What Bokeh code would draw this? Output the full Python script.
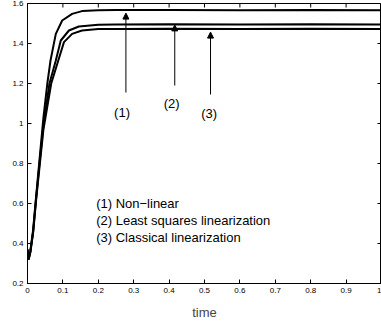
import math
from bokeh.plotting import figure
from bokeh.models import FixedTicker, Arrow, NormalHead
from bokeh.core.properties import value
from bokeh.embed import file_html
from bokeh.resources import INLINE

# ---- data ----
t1 = [0.0, 0.003, 0.008, 0.016, 0.024, 0.035, 0.045, 0.056, 0.065, 0.080, 0.098,
      0.126, 0.154, 0.2, 0.25, 0.4, 0.6, 0.8, 1.0]
y1 = [0.37, 0.32, 0.36, 0.47, 0.63, 0.84, 1.03, 1.20, 1.315, 1.448, 1.515,
      1.548, 1.562, 1.566, 1.567, 1.567, 1.566, 1.567, 1.566]

t2 = [0.0, 0.003, 0.008, 0.016, 0.024, 0.035, 0.045, 0.062, 0.080, 0.094, 0.117,
      0.145, 0.2, 0.25, 0.4, 0.6, 0.8, 1.0]
y2 = [0.37, 0.32, 0.36, 0.46, 0.62, 0.82, 0.99, 1.20, 1.315, 1.415, 1.465,
      1.485, 1.494, 1.495, 1.496, 1.495, 1.496, 1.495]

t3 = [0.0, 0.003, 0.008, 0.016, 0.024, 0.035, 0.045, 0.067, 0.087, 0.103, 0.126,
      0.154, 0.2, 0.25, 0.4, 0.6, 0.8, 1.0]
y3 = [0.37, 0.32, 0.355, 0.455, 0.61, 0.80, 0.97, 1.20, 1.315, 1.407, 1.448,
      1.465, 1.472, 1.473, 1.474, 1.473, 1.474, 1.473]

x_ticks = [0, 0.1, 0.2, 0.3, 0.4, 0.5, 0.6, 0.7, 0.8, 0.9, 1.0]
x_tick_labels = ["0", "0.1", "0.2", "0.3", "0.4", "0.5", "0.6", "0.7", "0.8", "0.9", "1"]
y_ticks = [0.2, 0.4, 0.6, 0.8, 1.0, 1.2, 1.4, 1.6]
y_tick_labels = ["0.2", "0.4", "0.6", "0.8", "1", "1.2", "1.4", "1.6"]

arrow_x = [0.278, 0.416, 0.517]
arrow_y_start = [1.155, 1.19, 1.145]
arrow_y_end = [1.552, 1.493, 1.457]

num_labels = ["(1)", "(2)", "(3)"]
num_label_x = [0.267, 0.407, 0.513]
num_label_y = [1.055, 1.10, 1.05]

legend_lines = ["(1) Non\u2212linear", "(2) Least squares linearization",
                "(3) Classical linearization"]
legend_x = [0.194, 0.194, 0.194]
legend_y = [0.60, 0.515, 0.43]

FONT = "Liberation Sans"
X0, X1 = 0.0, 1.0
Y0, Y1 = 0.2, 1.6

p = figure(width=381, height=325, x_range=(X0, X1), y_range=(Y0, Y1),
           output_backend="svg", toolbar_location=None,
           min_border_left=27, min_border_right=0, min_border_top=3,
           min_border_bottom=42)
p.xgrid.visible = False
p.ygrid.visible = False
p.outline_line_color = "black"
p.outline_line_width = 1
p.background_fill_color = "white"
p.border_fill_color = "white"

for ax, ticks, labels in ((p.xaxis[0], x_ticks, x_tick_labels), (p.yaxis[0], y_ticks, y_tick_labels)):
    ax.ticker = FixedTicker(ticks=ticks)
    ax.major_label_overrides = {t: l for t, l in zip(ticks, labels)}
    ax.major_tick_in = 4
    ax.major_tick_out = 0
    ax.minor_tick_line_color = None
    ax.major_label_text_font = FONT
    ax.major_label_text_font_size = "8px"
    ax.major_label_text_color = "black"
    ax.axis_line_color = "black"
    ax.major_tick_line_color = "black"
p.yaxis[0].major_label_standoff = 4
p.xaxis[0].major_label_standoff = 4
p.xaxis[0].axis_label = "time"
p.xaxis[0].axis_label_text_font = FONT
p.xaxis[0].axis_label_text_font_size = "13px"
p.xaxis[0].axis_label_text_font_style = "normal"
p.xaxis[0].axis_label_standoff = 9

# mirror ticks on the top and right edges (pointing inward)
p.ray(x=x_ticks, y=[Y1] * len(x_ticks), length=4, length_units="screen",
      angle=-math.pi / 2, line_color="black", line_width=1)
p.ray(x=[X1] * len(y_ticks), y=y_ticks, length=4, length_units="screen",
      angle=math.pi, line_color="black", line_width=1)

for tt, yy in ((t1, y1), (t2, y2), (t3, y3)):
    p.line(tt, yy, line_color="black", line_width=2)

for ax_, ys, ye in zip(arrow_x, arrow_y_start, arrow_y_end):
    p.add_layout(Arrow(end=NormalHead(size=6, fill_color="black", line_color="black"),
                       x_start=ax_, y_start=ys, x_end=ax_, y_end=ye,
                       line_color="black", line_width=1))

p.text(x=num_label_x, y=num_label_y, text=num_labels, text_align="center",
       text_baseline="middle", text_font_size="13px", text_font=value(FONT),
       text_color="black")
p.text(x=legend_x, y=legend_y, text=legend_lines, text_align="left",
       text_baseline="middle", text_font_size="13px", text_font=value(FONT),
       text_color="black")

open("out.html", "w").write(file_html(p, INLINE))
